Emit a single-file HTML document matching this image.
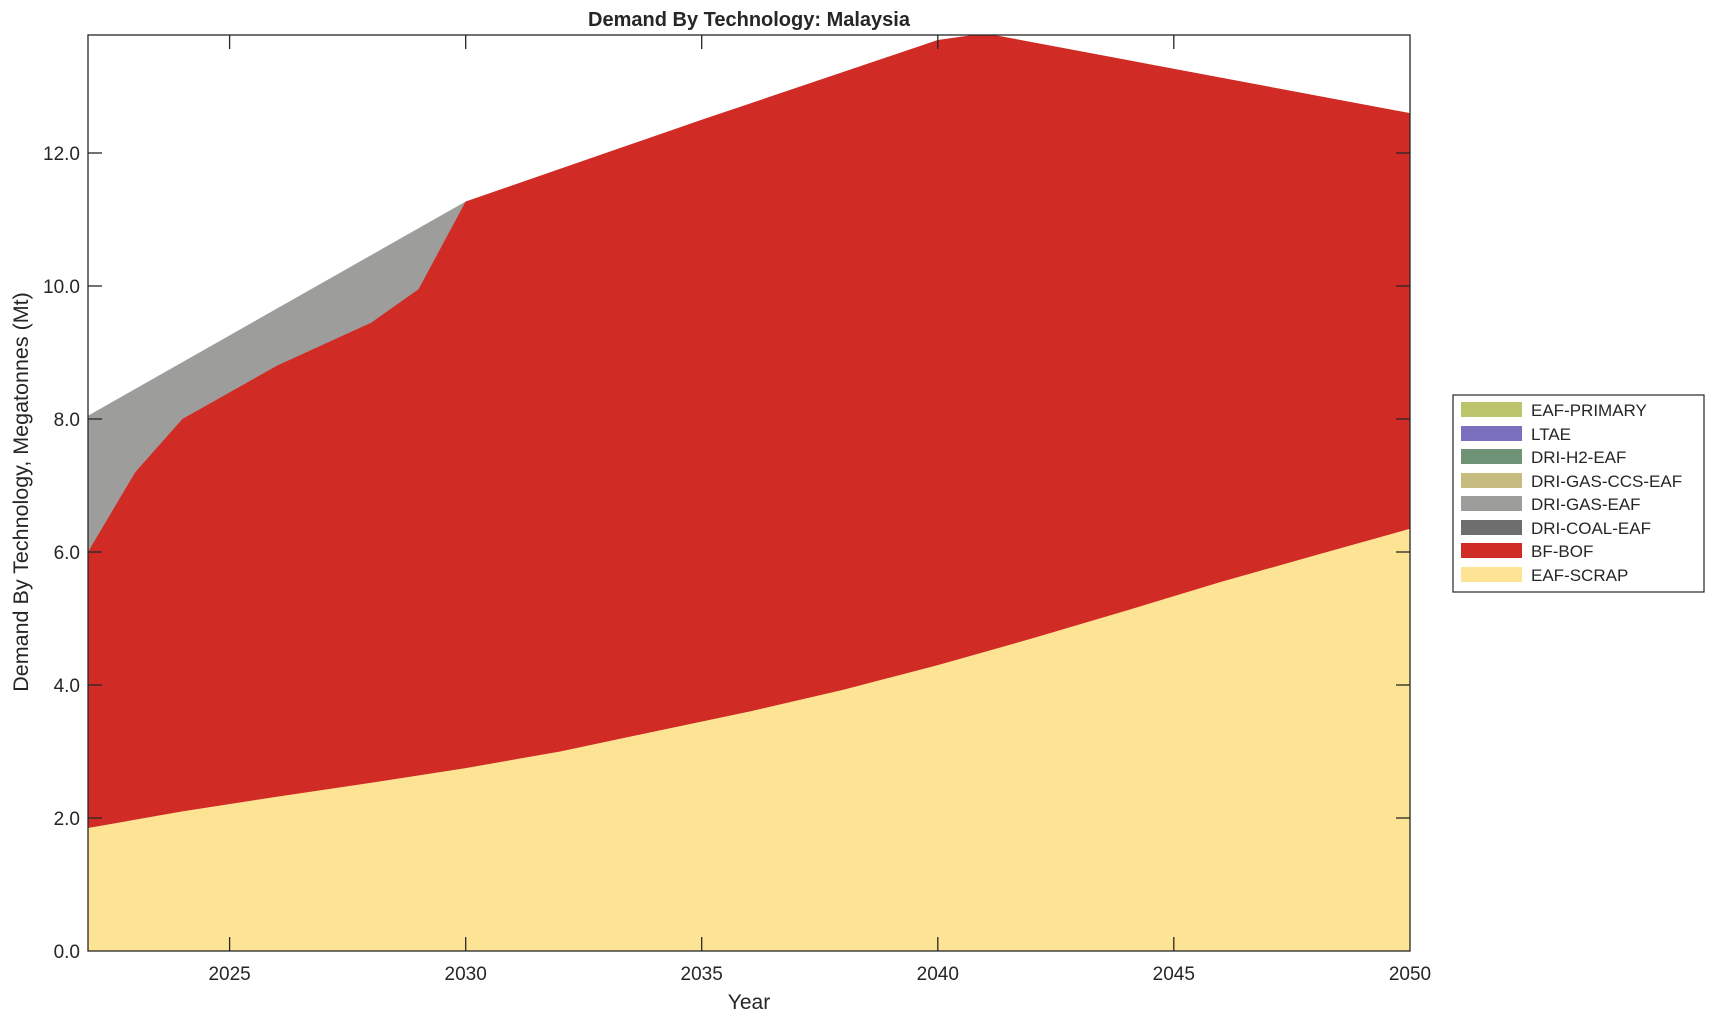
<!DOCTYPE html>
<html><head><meta charset="utf-8"><style>html,body{margin:0;padding:0;background:#fff}svg{display:block}text{font-family:"Liberation Sans",Arial,sans-serif;fill:#262626}</style></head>
<body>
<svg width="1715" height="1020" viewBox="0 0 1715 1020" xmlns="http://www.w3.org/2000/svg">
<defs><clipPath id="c"><rect x="88" y="35" width="1322" height="916"/></clipPath></defs>
<g clip-path="url(#c)">
<polygon fill="#9d9d9b" points="88,951 88,415.7 465.7,201.5 465.7,951"/>
<polygon fill="#d12b25" points="88,951 88,552 135.2,472.2 182.4,419 276.8,365.8 371.3,322.6 418.5,289.3 465.7,201.5 701.7,119.8 937.8,40 985,33.3 1410,113.1 1410,951"/>
<polygon fill="#fde494" points="88,951 88,828 182.4,811.4 276.8,796.7 371.3,782.8 465.7,768.1 560.1,751.5 654.5,731.5 749,711.6 843.4,689.7 937.8,665.1 1032.2,638.4 1126.6,610.5 1221,581.9 1315.4,555.3 1410,528.7 1410,951"/>
</g>
<rect x="88" y="35" width="1322" height="916" fill="none" stroke="#262626" stroke-width="1.3"/>
<g stroke="#262626" stroke-width="1.3">
<line x1="229.6" y1="951" x2="229.6" y2="937"/><line x1="229.6" y1="35" x2="229.6" y2="49"/>
<line x1="465.7" y1="951" x2="465.7" y2="937"/><line x1="465.7" y1="35" x2="465.7" y2="49"/>
<line x1="701.7" y1="951" x2="701.7" y2="937"/><line x1="701.7" y1="35" x2="701.7" y2="49"/>
<line x1="937.8" y1="951" x2="937.8" y2="937"/><line x1="937.8" y1="35" x2="937.8" y2="49"/>
<line x1="1173.8" y1="951" x2="1173.8" y2="937"/><line x1="1173.8" y1="35" x2="1173.8" y2="49"/>
<line x1="88" y1="818" x2="102" y2="818"/><line x1="1410" y1="818" x2="1396" y2="818"/>
<line x1="88" y1="685" x2="102" y2="685"/><line x1="1410" y1="685" x2="1396" y2="685"/>
<line x1="88" y1="552" x2="102" y2="552"/><line x1="1410" y1="552" x2="1396" y2="552"/>
<line x1="88" y1="419" x2="102" y2="419"/><line x1="1410" y1="419" x2="1396" y2="419"/>
<line x1="88" y1="286" x2="102" y2="286"/><line x1="1410" y1="286" x2="1396" y2="286"/>
<line x1="88" y1="153" x2="102" y2="153"/><line x1="1410" y1="153" x2="1396" y2="153"/>
</g>
<g font-size="19" text-anchor="end">
<text x="80" y="958">0.0</text><text x="80" y="825">2.0</text><text x="80" y="692">4.0</text><text x="80" y="559">6.0</text><text x="80" y="426">8.0</text><text x="80" y="293">10.0</text><text x="80" y="160">12.0</text>
</g>
<g font-size="19" text-anchor="middle">
<text x="229.6" y="980">2025</text><text x="465.7" y="980">2030</text><text x="701.7" y="980">2035</text><text x="937.8" y="980">2040</text><text x="1173.8" y="980">2045</text><text x="1410" y="980">2050</text>
<text x="749" y="1009" font-size="21">Year</text>
<text x="749" y="26" font-size="20" font-weight="bold" fill="#000">Demand By Technology: Malaysia</text>
<text transform="translate(28,492) rotate(-90)" font-size="21.5">Demand By Technology, Megatonnes (Mt)</text>
</g>
<rect x="1453" y="395" width="251" height="197" fill="#fff" stroke="#262626" stroke-width="1.2"/>
<g font-size="17">
<rect x="1461" y="402" width="61" height="15" fill="#bbc46b"/><text x="1531" y="416">EAF-PRIMARY</text>
<rect x="1461" y="426" width="61" height="15" fill="#7a6fbf"/><text x="1531" y="440">LTAE</text>
<rect x="1461" y="449" width="61" height="15" fill="#6e9276"/><text x="1531" y="463">DRI-H2-EAF</text>
<rect x="1461" y="473" width="61" height="15" fill="#c6bc80"/><text x="1531" y="487">DRI-GAS-CCS-EAF</text>
<rect x="1461" y="496" width="61" height="15" fill="#9d9d9b"/><text x="1531" y="510">DRI-GAS-EAF</text>
<rect x="1461" y="520" width="61" height="15" fill="#6e6e6e"/><text x="1531" y="534">DRI-COAL-EAF</text>
<rect x="1461" y="543" width="61" height="15" fill="#d12b25"/><text x="1531" y="557">BF-BOF</text>
<rect x="1461" y="567" width="61" height="15" fill="#fde494"/><text x="1531" y="581">EAF-SCRAP</text>
</g>
</svg>
</body></html>
